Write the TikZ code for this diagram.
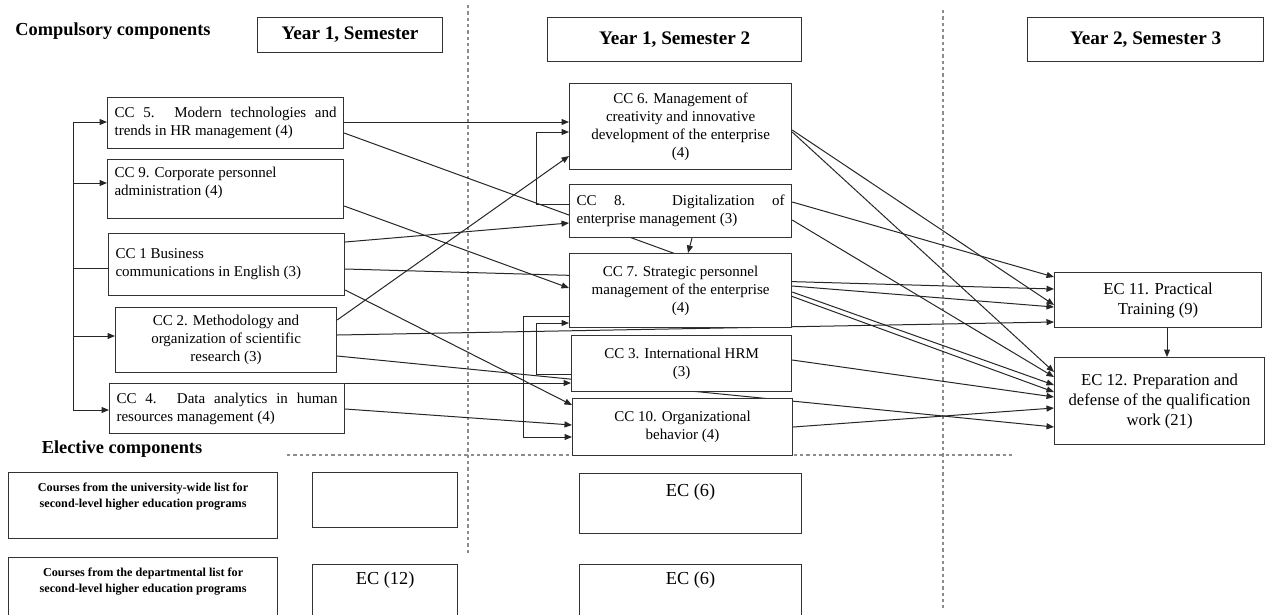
\documentclass[tikz,border=0pt]{standalone}
\usepackage{fontspec}
\setmainfont{Liberation Serif}
\usetikzlibrary{arrows.meta}
\pgfdeclarelayer{bg}
\pgfsetlayers{bg,main}

\newdimen\pxu \pxu=0.6pt
% box text: width, height (px), vertical position, text
\newcommand{\cell}[4]{\parbox[c][\dimexpr#2\pxu-8\pxu\relax][#3]{\dimexpr#1\pxu-14\pxu\relax}{#4}}
\newcommand{\ccfont}{\fontsize{9}{10.8}\selectfont}
\newcommand{\ecfont}{\fontsize{10}{12}\selectfont}
\newcommand{\ecbig}{\fontsize{11}{13}\selectfont}
\newcommand{\hdfont}{\fontsize{11}{13}\selectfont\bfseries}
\newcommand{\yrfont}{\fontsize{11.5}{13}\selectfont\bfseries}
\newcommand{\elfont}{\fontsize{7.3}{9.6}\selectfont\bfseries}

\tikzset{
  box/.style={draw=black!80, line width=0.7pt, fill=white, anchor=north west,
    inner xsep=4.2pt, inner ysep=2.4pt, font=\ccfont},
  link/.style={draw=black!85, line width=0.6pt},
  arr/.style={-{Triangle[length=4.5pt,width=3.6pt]}},
  sep/.style={draw=black!45, line width=0.9pt, dash pattern=on 2pt off 1.8pt},
}

\begin{document}
\begin{tikzpicture}[x=0.6pt, y=-0.6pt]
\useasboundingbox (0,0) rectangle (1265,614);
\clip (0,0) rectangle (1265,614);

% headings
\node[font=\hdfont] (comp) at (113,31) {Compulsory components};
\node[box, font=\yrfont] (sem1) at (257,17) {\cell{185}{35}{c}{\centering Year 1, Semester}};
\node[box, font=\yrfont] (sem2) at (547,17) {\cell{254}{44}{c}{\centering Year 1, Semester 2}};
\node[box, font=\yrfont] (sem3) at (1027,17) {\cell{236}{44}{c}{\centering Year 2, Semester 3}};

% semester 1
\node[box] (cc5) at (107,97) {\cell{236}{51}{c}{\raggedright\makebox[\linewidth][s]{CC 5. Modern technologies and}\\ trends in HR management (4)}};
\node[box] (cc9) at (107,159) {\cell{236}{59}{t}{\raggedright\vspace*{4\pxu}CC 9. Corporate personnel\\ administration (4)}};
\node[box] (cc1) at (108,233) {\cell{236}{62}{c}{\raggedright CC 1 Business\\ communications in English (3)}};
\node[box] (cc2) at (115,307) {\cell{221}{65}{c}{\centering CC 2. Methodology and\\ organization of scientific\\ research (3)}};
\node[box] (cc4) at (109,383) {\cell{235}{50}{c}{\raggedright\makebox[\linewidth][s]{CC 4. Data analytics in human}\\ resources management (4)}};

% semester 2
\node[box] (cc6) at (569,83) {\cell{222}{86}{c}{\centering CC 6. Management of\\ creativity and innovative\\ development of the enterprise\\ (4)}};
\node[box] (cc8) at (569,184) {\cell{222}{53}{c}{\raggedright\makebox[\linewidth][s]{CC 8. Digitalization of}\\ enterprise management (3)}};
\node[box] (cc7) at (569,253) {\cell{222}{74}{c}{\centering CC 7. Strategic personnel\\ management of the enterprise\\ (4)}};
\node[box] (cc3) at (571,335) {\cell{220}{56}{c}{\centering CC 3. International HRM\\ (3)}};
\node[box] (cc10) at (572,398) {\cell{220}{57}{c}{\centering CC 10. Organizational\\ behavior (4)}};

% semester 3
\node[box, font=\ecfont] (ec11) at (1054,272) {\cell{207}{55}{c}{\centering EC 11. Practical\\ Training (9)}};
\node[box, font=\ecfont] (ec12) at (1054,357) {\cell{210}{87}{c}{\centering EC 12. Preparation and\\ defense of the qualification\\ work (21)}};

% elective components
\node[font=\hdfont] (elect) at (122,449) {Elective components};
\node[box, font=\elfont] (univ) at (8,472) {\cell{269}{66}{t}{\centering\vspace*{6\pxu}Courses from the university-wide list for\\ second-level higher education programs}};
\node[box, font=\elfont] (dept) at (8,557) {\cell{269}{70}{t}{\centering\vspace*{6\pxu}Courses from the departmental list for\\ second-level higher education programs}};
\node[box] (ec1a) at (312,472) {\cell{145}{55}{c}{\mbox{}}};
\node[box, font=\ecbig] (ec1b) at (312,564) {\cell{145}{62}{t}{\centering\vspace*{3\pxu}EC (12)}};
\node[box, font=\ecbig] (ec2a) at (579,473) {\cell{222}{60}{t}{\centering\vspace*{6\pxu}EC (6)}};
\node[box, font=\ecbig] (ec2b) at (579,564) {\cell{222}{62}{t}{\centering\vspace*{3\pxu}EC (6)}};

\begin{pgfonlayer}{bg}
% dotted separators
\draw[sep] (468,5) -- (468,555);
\draw[sep] (943,10) -- (943,608);
\draw[sep] (287,455) -- (1012,455);

% CC 1 to the other first semester courses
\coordinate (spine) at (73,268);
\draw[link] (cc1.west |- 0,268) -- (spine);
\draw[link, arr] (spine) |- (cc5.west |- 0,122);
\draw[link, arr] (73,183) -- (cc9.west |- 0,183);
\draw[link, arr] (73,336) -- (cc2.west |- 0,336);
\draw[link, arr] (spine) |- (cc4.west |- 0,410);

% semester 1 -> semester 2 / 3
\draw[link, arr] (cc5.east |- 0,122) -- (cc6.west |- 0,122);
\draw[link, arr] (cc5.east |- 0,133) -- (ec12.west |- 0,392);
\draw[link, arr] (cc9.east |- 0,206) -- (cc7.west |- 0,288);
\draw[link, arr] (cc1.east |- 0,242) -- (cc8.west |- 0,223);
\draw[link, arr] (cc1.east |- 0,269) -- (ec11.west |- 0,289);
\draw[link, arr] (cc1.east |- 0,290) -- (cc10.west |- 0,405);
\draw[link, arr] (cc2.east |- 0,320) -- (cc6.west |- 0,156);
\draw[link, arr] (cc2.east |- 0,335) -- (ec11.west |- 0,322);
\draw[link, arr] (cc2.east |- 0,356) -- (ec12.west |- 0,427);
\draw[link, arr] (cc4.east |- 0,383) -- (cc3.west |- 0,383);
\draw[link, arr] (cc4.east |- 0,409) -- (cc10.west |- 0,425);

% within semester 2
\draw[link, arr] (cc8.west |- 0,204) -- ++(-33,0) |- (cc6.west |- 0,132);
\draw[link, arr] (cc8.south -| 692,0) -- (cc7.north -| 688,0);
\draw[link, arr] (cc7.west |- 0,316) -- ++(-46,0) |- (cc10.west |- 0,437);
\draw[link, arr] (cc3.west |- 0,374) -- ++(-35,0) |- (cc7.west |- 0,323);

% semester 2 -> semester 3
\draw[link, arr] (cc6.east |- 0,130) -- (ec11.west |- 0,305);
\draw[link, arr] (cc6.east |- 0,132) -- (ec12.west |- 0,372);
\draw[link, arr] (cc8.east |- 0,202) -- (ec11.west |- 0,277);
\draw[link, arr] (cc8.east |- 0,220) -- (ec12.west |- 0,377);
\draw[link, arr] (cc7.east |- 0,286) -- (ec11.west |- 0,307);
\draw[link, arr] (cc7.east |- 0,292) -- (ec12.west |- 0,385);
\draw[link, arr] (cc3.east |- 0,360) -- (ec12.west |- 0,397);
\draw[link, arr] (cc10.east |- 0,427) -- (ec12.west |- 0,408);
\draw[link, arr] (ec11.south -| 1167,0) -- (ec12.north -| 1167,0);
\end{pgfonlayer}
\end{tikzpicture}
\end{document}
